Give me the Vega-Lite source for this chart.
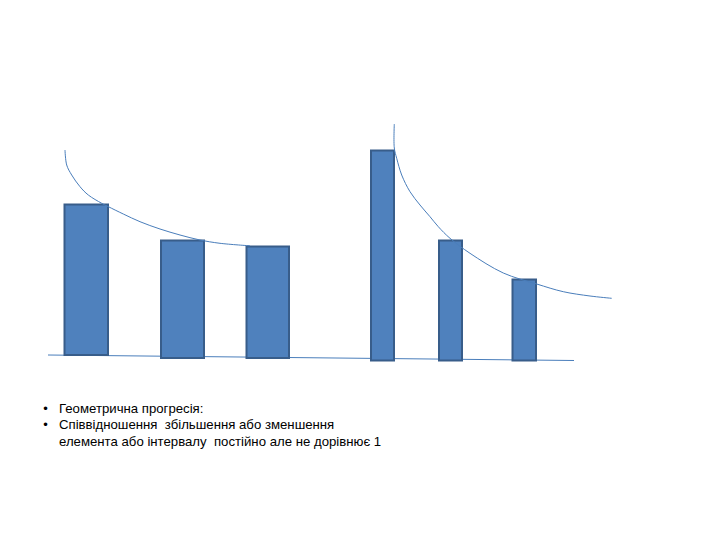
{
  "$schema": "https://vega.github.io/schema/vega-lite/v6.json",
  "width": 720,
  "height": 540,
  "autosize": {"type": "fit", "contains": "padding"},
  "padding": 0,
  "background": "white",
  "config": {"view": {"stroke": null}},
  "datasets": {
    "bars": [
      {"x1": 64.5, "x2": 108, "top": 204.5, "bottom": 355},
      {"x1": 161, "x2": 204, "top": 240.5, "bottom": 358},
      {"x1": 246.5, "x2": 289, "top": 246.5, "bottom": 358},
      {"x1": 371, "x2": 394, "top": 150.5, "bottom": 360.5},
      {"x1": 439, "x2": 462, "top": 240.5, "bottom": 360.5},
      {"x1": 512.5, "x2": 536, "top": 279.5, "bottom": 360.5}
    ],
    "curves": [
      {"s": "a", "o": 1, "x": 65, "y": 150},
      {"s": "a", "o": 2, "x": 66.7, "y": 165},
      {"s": "a", "o": 3, "x": 71.7, "y": 175},
      {"s": "a", "o": 4, "x": 80, "y": 186.7},
      {"s": "a", "o": 5, "x": 88.3, "y": 195},
      {"s": "a", "o": 6, "x": 101.7, "y": 203.3},
      {"s": "a", "o": 7, "x": 108, "y": 206.5},
      {"s": "a", "o": 8, "x": 123.3, "y": 214},
      {"s": "a", "o": 9, "x": 140, "y": 221.7},
      {"s": "a", "o": 10, "x": 160, "y": 229},
      {"s": "a", "o": 11, "x": 180, "y": 235},
      {"s": "a", "o": 12, "x": 200, "y": 240},
      {"s": "a", "o": 13, "x": 220, "y": 243.3},
      {"s": "a", "o": 14, "x": 250, "y": 245.8},
      {"s": "b", "o": 1, "x": 394.3, "y": 124},
      {"s": "b", "o": 2, "x": 394.3, "y": 148},
      {"s": "b", "o": 3, "x": 396.7, "y": 158.3},
      {"s": "b", "o": 4, "x": 401.7, "y": 175},
      {"s": "b", "o": 5, "x": 410, "y": 191.7},
      {"s": "b", "o": 6, "x": 420, "y": 205},
      {"s": "b", "o": 7, "x": 430, "y": 216.7},
      {"s": "b", "o": 8, "x": 438.3, "y": 226.7},
      {"s": "b", "o": 9, "x": 450, "y": 238.3},
      {"s": "b", "o": 10, "x": 470, "y": 253.3},
      {"s": "b", "o": 11, "x": 503.3, "y": 273},
      {"s": "b", "o": 12, "x": 536.7, "y": 284},
      {"s": "b", "o": 13, "x": 563.3, "y": 291.7},
      {"s": "b", "o": 14, "x": 590, "y": 296},
      {"s": "b", "o": 15, "x": 611.7, "y": 298.3}
    ],
    "base": [
      {"o": 1, "x": 48, "y": 355},
      {"o": 2, "x": 574, "y": 360.5}
    ],
    "bullets": [
      {"x": 45.5, "y": 409},
      {"x": 45.5, "y": 425}
    ],
    "texts": [
      {"x": 59, "y": 409, "t": "Геометрична прогресія:"},
      {"x": 59, "y": 425, "t": "Співвідношення \u00a0збільшення або зменшення"},
      {"x": 59, "y": 441.5, "t": "елемента або інтервалу \u00a0постійно але не дорівнює 1"}
    ]
  },
  "layer": [
    {
      "data": {"name": "base"},
      "mark": {"type": "line", "stroke": "#4A7EBB", "strokeWidth": 1},
      "encoding": {
        "x": {"field": "x", "type": "quantitative", "scale": {"domain": [0, 720]}, "axis": null},
        "y": {"field": "y", "type": "quantitative", "scale": {"domain": [0, 540], "reverse": true}, "axis": null},
        "order": {"field": "o"}
      }
    },
    {
      "data": {"name": "bars"},
      "mark": {"type": "rect", "fill": "#4F81BD", "stroke": "#385D8A", "strokeWidth": 2},
      "encoding": {
        "x": {"field": "x1", "type": "quantitative", "scale": {"domain": [0, 720]}, "axis": null},
        "x2": {"field": "x2"},
        "y": {"field": "top", "type": "quantitative", "scale": {"domain": [0, 540], "reverse": true}, "axis": null},
        "y2": {"field": "bottom"}
      }
    },
    {
      "data": {"name": "curves"},
      "mark": {"type": "line", "stroke": "#4A7EBB", "strokeWidth": 1, "interpolate": "catmull-rom"},
      "encoding": {
        "x": {"field": "x", "type": "quantitative", "scale": {"domain": [0, 720]}, "axis": null},
        "y": {"field": "y", "type": "quantitative", "scale": {"domain": [0, 540], "reverse": true}, "axis": null},
        "detail": {"field": "s"},
        "order": {"field": "o"}
      }
    },
    {
      "data": {"name": "bullets"},
      "mark": {"type": "text", "text": "•", "font": "Liberation Sans", "fontSize": 13, "align": "center", "baseline": "middle", "color": "#000000"},
      "encoding": {
        "x": {"field": "x", "type": "quantitative", "scale": {"domain": [0, 720]}, "axis": null},
        "y": {"field": "y", "type": "quantitative", "scale": {"domain": [0, 540], "reverse": true}, "axis": null}
      }
    },
    {
      "data": {"name": "texts"},
      "mark": {"type": "text", "font": "Liberation Sans", "fontSize": 13.2, "align": "left", "baseline": "middle", "color": "#000000"},
      "encoding": {
        "x": {"field": "x", "type": "quantitative", "scale": {"domain": [0, 720]}, "axis": null},
        "y": {"field": "y", "type": "quantitative", "scale": {"domain": [0, 540], "reverse": true}, "axis": null},
        "text": {"field": "t"}
      }
    }
  ]
}
